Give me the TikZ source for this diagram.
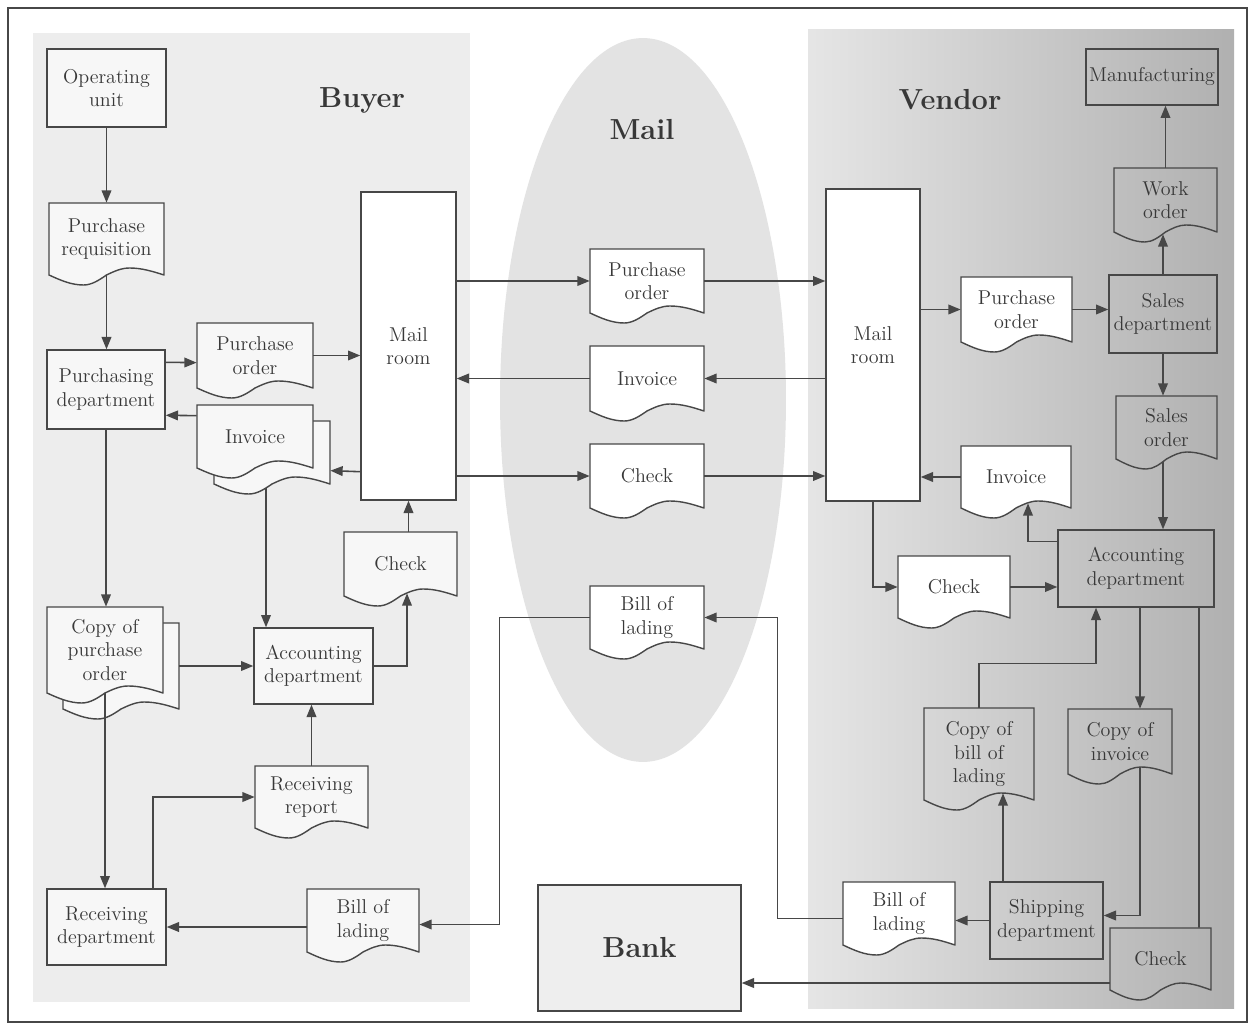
\documentclass[tikz,border=0pt]{standalone}
\usetikzlibrary{arrows.meta,calc}
\definecolor{linec}{HTML}{474747}
\definecolor{textc}{HTML}{383838}
\definecolor{boxfill}{HTML}{F7F7F7}
\definecolor{buyerbg}{HTML}{EDEDED}
\definecolor{mailbg}{HTML}{E3E3E3}
\newcommand{\nodefont}{\fontsize{11.4pt}{13.4pt}\selectfont}
\newcommand{\titlefont}{\fontsize{16.5pt}{19pt}\selectfont\bfseries}
% document symbol: #1 extra style, #2 name, #3 cx, #4 cy, #5 width, #6 height (to the corners), #7 text
\newcommand{\docnode}[7]{%
  \filldraw[docedge,#1] ({#3+#5/2},{#4+#6/2}) -- ({#3+#5/2},{#4-#6/2}) -- ({#3-#5/2},{#4-#6/2}) -- ({#3-#5/2},{#4+#6/2})
     sin ++({0.3*#5},10) cos ++({0.2*#5},-10) sin ++({0.2*#5},-7) cos ++({0.3*#5},7) -- cycle;
  \node[docbox,minimum width=#5*0.02cm,minimum height=#6*0.02cm] (#2) at (#3,#4) {#7};}
\tikzset{
  conn/.style={draw=linec, line width=0.9pt},
  arr/.style={conn, -{Triangle[length=7pt,width=5.5pt]}},
  rbox/.style={draw=linec, line width=0.8pt, fill=boxfill, inner sep=0pt, align=center, text=textc, font=\nodefont},
  docedge/.style={draw=linec, line width=0.8pt, fill=boxfill},
  docbox/.style={inner sep=0pt, align=center, text=textc, font=\nodefont},
  title/.style={font=\titlefont, text=textc}
}
\begin{document}
\begin{tikzpicture}[x=0.02cm,y=-0.02cm]
\useasboundingbox (0,0) rectangle (1254,1030);
% backgrounds of the three parties
\fill[white] (0,0) rectangle (1254,1030);
\fill[buyerbg] (33,33) rectangle (470,1002);
\fill[mailbg] (643,400) ellipse [x radius=2.86cm, y radius=7.24cm];
\shade[left color=gray!20, right color=gray!62] (808,30) rectangle (1234,1008);
\draw[linec, line width=1.6pt] (8,8) rectangle (1247,1022);

% titles
\node[title] (tbuyer) at (362,100) {Buyer};
\node[title] (tmail) at (642,130) {Mail};
\node[title] (tvendor) at (950,100) {Vendor};

% ---------------- Buyer ----------------
\node[rbox, minimum width=119*0.02cm, minimum height=78*0.02cm] (opunit) at (106.5,88) {Operating\\unit};
\docnode{}{purchreq}{106.5}{239}{115}{72}{Purchase\\requisition}
\node[rbox, minimum width=118*0.02cm, minimum height=79*0.02cm] (purchdept) at (106,389.5) {Purchasing\\department};
\docnode{}{poB}{255}{355.5}{116}{65}{Purchase\\order}
\docnode{}{invBb}{272}{452.5}{116}{63}{}
\docnode{}{invB}{255}{436.5}{116}{63}{Invoice}
\node[rbox, fill=white, minimum width=95*0.02cm, minimum height=308*0.02cm] (mailB) at (408.5,346) {Mail\\room};
\docnode{}{checkB}{400.5}{564}{113}{64}{Check}
\docnode{}{copyPOb}{121}{666}{116}{86}{}
\docnode{}{copyPO}{105}{650}{116}{86}{Copy of\\purchase\\order}
\node[rbox, minimum width=119*0.02cm, minimum height=76*0.02cm] (acctB) at (313.5,666) {Accounting\\department};
\docnode{}{recvrep}{311.5}{797}{113}{62}{Receiving\\report}
\node[rbox, minimum width=119*0.02cm, minimum height=76*0.02cm] (recvdept) at (106.5,927) {Receiving\\department};
\docnode{}{bolB}{363}{920.5}{112}{63}{Bill of\\lading}

% ---------------- Mail ----------------
\docnode{fill=white}{poM}{647}{281}{114}{64}{Purchase\\order}
\docnode{fill=white}{invM}{647}{378.5}{114}{65}{Invoice}
\docnode{fill=white}{checkM}{647}{476}{114}{64}{Check}
\docnode{fill=white}{bolM}{647}{617.5}{114}{63}{Bill of\\lading}
\node[rbox, fill=gray!13, minimum width=203*0.02cm, minimum height=126*0.02cm, font=\titlefont] (bank) at (639.5,948) {Bank};

% ---------------- Vendor ----------------
\node[rbox, fill=white, minimum width=94*0.02cm, minimum height=312*0.02cm] (mailV) at (873,345) {Mail\\room};
\node[rbox, fill=none, minimum width=132*0.02cm, minimum height=56*0.02cm] (manuf) at (1152,77) {Manufacturing};
\docnode{fill=none}{workord}{1165.5}{200}{103}{64}{Work\\order}
\node[rbox, fill=none, minimum width=108*0.02cm, minimum height=78*0.02cm] (salesdept) at (1163,314) {Sales\\department};
\docnode{fill=white}{poV}{1016.5}{309.5}{111}{65}{Purchase\\order}
\docnode{fill=none}{salesord}{1166.5}{427.5}{101}{63}{Sales\\order}
\docnode{fill=white}{invV}{1016}{477}{110}{62}{Invoice}
\node[rbox, fill=none, minimum width=156*0.02cm, minimum height=77*0.02cm] (acctV) at (1136,568.5) {Accounting\\department};
\docnode{fill=white}{checkV}{954}{587}{112}{62}{Check}
\docnode{fill=none}{copybol}{979}{754}{110}{92}{Copy of\\bill of\\lading}
\docnode{fill=none}{copyinv}{1120}{741.5}{104}{65}{Copy of\\invoice}
\node[rbox, fill=none, minimum width=113*0.02cm, minimum height=77*0.02cm] (shipdept) at (1046.5,920.5) {Shipping\\department};
\docnode{fill=white}{bolV}{899}{913.5}{112}{63}{Bill of\\lading}
\docnode{fill=none}{checkV2}{1160.5}{959}{101}{62}{Check}

% ---------------- connectors: buyer ----------------
\draw[arr] (opunit.south) -- (purchreq.north -| opunit.south);
\draw[arr] (purchreq.south) -- (purchdept.north -| purchreq.south);
\draw[arr] ($(purchdept.north east)+(0,13)$) -- ($(poB.north west)+(0,40)$);
\draw[arr] (poB.east) -- (mailB.west |- poB.east);
\draw[arr] ($(invB.north west)+(0,11)$) -- ($(purchdept.north east)+(0,66)$);
\draw[arr] ($(mailB.south west)+(0,-29)$) -- ($(invBb.north east)+(0,50)$);
\draw[arr] ($(invBb.south)+(-6,4)$) -- ($(acctB.north)+(-47.5,0)$);
\draw[arr] (purchdept.south) -- (copyPO.north -| purchdept.south);
\draw[arr] (copyPOb.east |- acctB.west) -- (acctB.west);
\draw[arr] (acctB.east) -| ($(checkB.south)+(6.5,-3)$);
\draw[arr] (checkB.north -| mailB.south) -- (mailB.south);
\draw[arr] (copyPO.south) -- (recvdept.north -| copyPO.south);
\draw[arr] ($(recvdept.north)+(46.5,0)$) |- (recvrep.west);
\draw[arr] (recvrep.north) -- (acctB.south -| recvrep.north);
\draw[arr] (bolB.west |- recvdept.east) -- (recvdept.east);
\draw[arr] (bolM.west) -| ($(bolB.east)+(80,4)$) -- ($(bolB.east)+(0,4)$);

% ---------------- connectors: mail ----------------
\draw[arr] (mailB.east |- poM.west) -- (poM.west);
\draw[arr] (poM.east) -- (mailV.west |- poM.east);
\draw[arr] (mailV.west |- invM.east) -- (invM.east);
\draw[arr] (invM.west) -- (mailB.east |- invM.west);
\draw[arr] (mailB.east |- checkM.west) -- (checkM.west);
\draw[arr] (checkM.east) -- (mailV.west |- checkM.east);
\draw[arr] ($(bolV.west)+(0,5)$) -| ($(bolM.east)+(73,0)$) -- (bolM.east);

% ---------------- connectors: vendor ----------------
\draw[arr] (mailV.east |- poV.west) -- (poV.west);
\draw[arr] (poV.east) -- (salesdept.west |- poV.east);
\draw[arr] (salesdept.north) -- ($(workord.south -| salesdept.north)+(0,2)$);
\draw[arr] (workord.north) -- (manuf.south -| workord.north);
\draw[arr] (salesdept.south) -- (salesord.north -| salesdept.south);
\draw[arr] ($(salesord.south -| salesdept.south)+(0,3)$) -- (acctV.north -| salesdept.south);
\draw[arr] ($(acctV.north west)+(0,12)$) -| ($(invV.south)+(12,-5)$);
\draw[arr] (invV.west) -- (mailV.east |- invV.west);
\draw[arr] (mailV.south) |- (checkV.west);
\draw[arr] (checkV.east) -- (acctV.west |- checkV.east);
\draw[arr] (copybol.north) |- ($(acctV.south)+(-40,56)$) -- ($(acctV.south)+(-40,0)$);
\draw[arr] ($(acctV.south)+(4,0)$) -- ($(copyinv.north)+(20,0)$);
\draw[arr] ($(copyinv.south)+(20,-7)$) |- ($(shipdept.east)+(0,-5)$);
\draw[arr] ($(shipdept.north)+(-43.5,0)$) -- ($(copybol.south)+(24,-7)$);
\draw[arr] (shipdept.west) -- (bolV.east |- shipdept.west);
\draw[conn] ($(acctV.south)+(63,0)$) -- ($(checkV2.north)+(38.5,0)$);
\draw[arr] ($(checkV2.west)+(0,24)$) -- ($(bank.east)+(0,35)$);
\end{tikzpicture}
\end{document}
